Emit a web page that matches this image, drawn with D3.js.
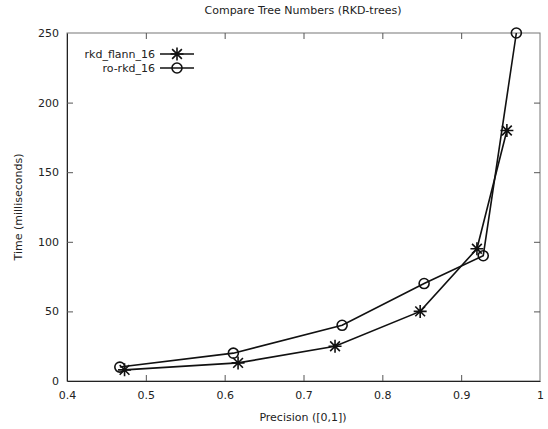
<!DOCTYPE html>
<html><head><meta charset="utf-8">
<script src="https://cdn.jsdelivr.net/npm/d3@7"></script>
<style>body{margin:0;background:#fff}text{font-family:"DejaVu Sans",sans-serif;fill:#222}</style>
</head><body>
<svg id="c" width="548" height="429"></svg>
<script>
const seriesNames = ["rkd_flann_16", "ro-rkd_16"];
const flannX = [0.473, 0.617, 0.740, 0.848, 0.920, 0.958];
const flannY = [8, 13, 25, 50, 95, 180];
const roX = [0.467, 0.611, 0.749, 0.853, 0.928, 0.970];
const roY = [10, 20, 40, 70, 90, 250];
const xTicks = [0.4, 0.5, 0.6, 0.7, 0.8, 0.9, 1];
const yTicks = [0, 50, 100, 150, 200, 250];
const title = "Compare Tree Numbers (RKD-trees)";
const xLabel = "Precision ([0,1])";
const yLabel = "Time (milliseconds)";

const svg = d3.select("#c");
const L = 67, R = 540, T = 33, B = 381;
const x = d3.scaleLinear().domain([0.4, 1]).range([L, R]);
const y = d3.scaleLinear().domain([0, 250]).range([B, T]);

// frame
svg.append("rect").attr("x", L).attr("y", T).attr("width", R - L).attr("height", B - T)
  .attr("fill", "none").attr("stroke", "#777").attr("stroke-width", 1);

const fmtX = d => d === 1 ? "1" : d3.format(".1f")(d);
const xa = svg.append("g").attr("transform", `translate(0,${B})`)
  .call(d3.axisBottom(x).tickValues(xTicks).tickFormat(fmtX).tickSizeInner(-6).tickSizeOuter(0).tickPadding(10));
const xt = svg.append("g").attr("transform", `translate(0,${T})`)
  .call(d3.axisTop(x).tickValues(xTicks).tickFormat("").tickSizeInner(-6).tickSizeOuter(0));
const ya = svg.append("g").attr("transform", `translate(${L},0)`)
  .call(d3.axisLeft(y).tickValues(yTicks).tickSizeInner(-6).tickSizeOuter(0).tickPadding(8));
const yr = svg.append("g").attr("transform", `translate(${R},0)`)
  .call(d3.axisRight(y).tickValues(yTicks).tickFormat("").tickSizeInner(-6).tickSizeOuter(0));
[xt, yr].forEach(g => { g.select(".domain").remove(); g.selectAll("line").attr("stroke", "#555"); });
[xa, ya].forEach(g => { g.select(".domain").attr("stroke", "#222"); g.selectAll("line").attr("stroke", "#555");
  g.selectAll("text").attr("font-size", 11).style("font-family", "DejaVu Sans").attr("fill", "#222"); });
xt.selectAll("line").filter(d => d === 0.4 || d === 1).remove();
yr.selectAll("line").filter(d => d === 0 || d === 250).remove();
xa.selectAll(".tick line").filter(d => d === 0.4 || d === 1).remove();
ya.selectAll(".tick line").filter(d => d === 0 || d === 250).remove();

svg.append("text").attr("x", 303).attr("y", 14).attr("text-anchor", "middle").attr("font-size", 11).text(title);
svg.append("text").attr("x", 303).attr("y", 421).attr("text-anchor", "middle").attr("font-size", 11).text(xLabel);
svg.append("text").attr("transform", "translate(22,207) rotate(-90)").attr("text-anchor", "middle").attr("font-size", 11).text(yLabel);

const line = d3.line().x(d => x(d[0])).y(d => y(d[1]));
const flann = flannX.map((v, i) => [v, flannY[i]]);
const ro = roX.map((v, i) => [v, roY[i]]);

function star(g, cx, cy) {
  const r = 6.5;
  const p = d3.path();
  p.moveTo(cx - r, cy); p.lineTo(cx + r, cy);
  p.moveTo(cx, cy - r); p.lineTo(cx, cy + r);
  const d = r * 0.75;
  p.moveTo(cx - d, cy - d); p.lineTo(cx + d, cy + d);
  p.moveTo(cx - d, cy + d); p.lineTo(cx + d, cy - d);
  g.append("path").attr("d", p.toString()).attr("stroke", "#111").attr("stroke-width", 1.6).attr("fill", "none");
}
function circ(g, cx, cy) {
  g.append("circle").attr("cx", cx).attr("cy", cy).attr("r", 5).attr("fill", "none").attr("stroke", "#111").attr("stroke-width", 1.6);
}

const gp = svg.append("g");
gp.append("path").datum(flann).attr("d", line).attr("fill", "none").attr("stroke", "#111").attr("stroke-width", 1.6);
gp.append("path").datum(ro).attr("d", line).attr("fill", "none").attr("stroke", "#111").attr("stroke-width", 1.6);
flann.forEach(d => star(gp, x(d[0]), y(d[1])));
ro.forEach(d => circ(gp, x(d[0]), y(d[1])));

// legend
const lg = svg.append("g");
[[seriesNames[0], 54, star], [seriesNames[1], 68, circ]].forEach(([name, ly, mk]) => {
  lg.append("text").attr("x", 155).attr("y", ly + 4).attr("text-anchor", "end").attr("font-size", 11).text(name);
  lg.append("line").attr("x1", 160).attr("x2", 194).attr("y1", ly).attr("y2", ly).attr("stroke", "#111").attr("stroke-width", 1.6);
  mk(lg, 177, ly);
});
</script>
</body></html>
